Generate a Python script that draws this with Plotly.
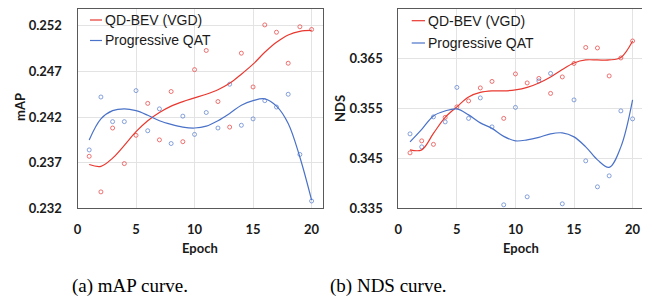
import plotly.graph_objects as go
from plotly.subplots import make_subplots

epochs = list(range(1, 21))

# mAP raw points
map_qdbev = [0.2377, 0.2338, 0.2408, 0.2369, 0.2400, 0.2435, 0.2395, 0.2448, 0.2393, 0.2472,
             0.2493, 0.2437, 0.2409, 0.2490, 0.2453, 0.2521, 0.2513, 0.2479, 0.2519, 0.2516]
map_pqat = [0.2384, 0.2442, 0.2415, 0.2415, 0.2449, 0.2405, 0.2429, 0.2391, 0.2421, 0.2401,
            0.2425, 0.2408, 0.2456, 0.2411, 0.2418, 0.2438, 0.2431, 0.2445, 0.2379, 0.2328]
# mAP trend curves
map_qdbev_trend = [0.2368, 0.2366, 0.2375, 0.2389, 0.2404, 0.2416, 0.2425, 0.2432, 0.2437, 0.2441,
                   0.2445, 0.2450, 0.2457, 0.2467, 0.2478, 0.2491, 0.2502, 0.2510, 0.2514, 0.2515]
map_pqat_trend = [0.2395, 0.2418, 0.2427, 0.2429, 0.2427, 0.2422, 0.2416, 0.2412, 0.2409, 0.2408,
                  0.2410, 0.2416, 0.2424, 0.2433, 0.2438, 0.2440, 0.2432, 0.2413, 0.2376, 0.2329]

# NDS raw points
nds_qdbev = [0.3461, 0.3485, 0.3478, 0.3532, 0.3553, 0.3565, 0.3591, 0.3604, 0.3530, 0.3619,
             0.3601, 0.3610, 0.3580, 0.3613, 0.3640, 0.3672, 0.3671, 0.3615, 0.3651, 0.3685]
nds_pqat = [0.3499, 0.3473, 0.3533, 0.3523, 0.3592, 0.3530, 0.3571, 0.3513, 0.3357, 0.3552,
            0.3373, 0.3605, 0.3620, 0.3359, 0.3567, 0.3445, 0.3393, 0.3415, 0.3545, 0.3529]
# NDS trend curves
nds_qdbev_trend = [0.3467, 0.3467, 0.3500, 0.3532, 0.3553, 0.3573, 0.3582, 0.3585, 0.3585, 0.3587,
                   0.3592, 0.3601, 0.3613, 0.3628, 0.3641, 0.3647, 0.3647, 0.3647, 0.3652, 0.3685]
nds_pqat_trend = [0.3483, 0.3508, 0.3535, 0.3545, 0.3549, 0.3537, 0.3521, 0.3510, 0.3494, 0.3485,
                  0.3487, 0.3492, 0.3499, 0.3501, 0.3493, 0.3473, 0.3447, 0.3432, 0.3473, 0.3567]

map_ticks = [0.232, 0.237, 0.242, 0.247, 0.252]
nds_ticks = [0.335, 0.345, 0.355, 0.365, 0.375]
x_ticks = [0, 5, 10, 15, 20]
series_names = ["QD-BEV (VGD)", "Progressive QAT"]
captions = ["(a) mAP curve.", "(b) NDS curve."]

RED = "#e8382f"
BLUE = "#4a72c8"
RED_PT = "rgba(232,70,70,0.75)"
BLUE_PT = "rgba(74,114,200,0.65)"

# the page body adds an 8px margin; size the figure so it fills the 650x302 window
OFF = 8
W, H = 650 - OFF, 302 - OFF
def px_x(p):
    return (p - OFF) / W
def px_y(p):
    return 1 - (p - OFF) / H

fig = make_subplots(rows=1, cols=2)

def add_panel(col, raw_a, raw_b, tr_a, tr_b):
    fig.add_trace(go.Scatter(x=epochs, y=raw_a, mode="markers",
                             marker=dict(symbol="circle-open", size=4, color=RED_PT, line=dict(width=1)),
                             showlegend=False, hoverinfo="skip"), row=1, col=col)
    fig.add_trace(go.Scatter(x=epochs, y=raw_b, mode="markers",
                             marker=dict(symbol="circle-open", size=4, color=BLUE_PT, line=dict(width=1)),
                             showlegend=False, hoverinfo="skip"), row=1, col=col)
    fig.add_trace(go.Scatter(x=epochs, y=tr_a, mode="lines", name=series_names[0],
                             line=dict(color=RED, width=1.2, shape="spline", smoothing=1.0),
                             showlegend=False), row=1, col=col)
    fig.add_trace(go.Scatter(x=epochs, y=tr_b, mode="lines", name=series_names[1],
                             line=dict(color=BLUE, width=1.2, shape="spline", smoothing=1.0),
                             showlegend=False), row=1, col=col)

add_panel(1, map_qdbev, map_pqat, map_qdbev_trend, map_pqat_trend)
add_panel(2, nds_qdbev, nds_pqat, nds_qdbev_trend, nds_pqat_trend)

tick_font = dict(family="Lato", size=13, color="#1a1a1a", weight="bold")
axis_common = dict(showline=True, linecolor="#595959", linewidth=1, mirror=True,
                   showgrid=True, gridcolor="#e3e3e3", gridwidth=1, zeroline=False,
                   ticks="", automargin=False, tickfont=tick_font)

fig.update_xaxes(range=[0, 21], tickvals=x_ticks, ticktext=[str(v) for v in x_ticks],
                 ticklabelstandoff=9, **axis_common)
fig.update_yaxes(ticklabelstandoff=12, **axis_common)
fig.update_yaxes(range=[0.232, 0.2539], tickvals=map_ticks,
                 ticktext=[f"{v:.3f}" for v in map_ticks], row=1, col=1)
fig.update_yaxes(range=[0.335, 0.375], tickvals=nds_ticks,
                 ticktext=[f"{v:.3f}" for v in nds_ticks], row=1, col=2)

fig.update_layout(
    xaxis=dict(domain=[px_x(77.5), px_x(323.3)]),
    xaxis2=dict(domain=[px_x(398.3), px_x(644.3)]),
    yaxis=dict(domain=[px_y(208.3), min(1.0, px_y(8.5))]),
    yaxis2=dict(domain=[px_y(208.3), min(1.0, px_y(8.5))]),
)

annotations = []
shapes = []
title_font = dict(family="Lato", size=13, color="#1a1a1a", weight="bold")
# axis titles
annotations.append(dict(text="mAP", x=px_x(20), y=px_y(107), xref="paper", yref="paper",
                        textangle=-90, showarrow=False, font=title_font, xanchor="center", yanchor="middle"))
annotations.append(dict(text="NDS", x=px_x(340), y=px_y(108), xref="paper", yref="paper",
                        textangle=-90, showarrow=False, font=title_font, xanchor="center", yanchor="middle"))
annotations.append(dict(text="Epoch", x=px_x(200), y=px_y(247.5), xref="paper", yref="paper",
                        showarrow=False, font=title_font, xanchor="center", yanchor="middle"))
annotations.append(dict(text="Epoch", x=px_x(520.7), y=px_y(247.5), xref="paper", yref="paper",
                        showarrow=False, font=title_font, xanchor="center", yanchor="middle"))
# captions
cap_font = dict(family="Liberation Serif", size=19, color="#000000")
annotations.append(dict(text=captions[0], x=px_x(129.5), y=px_y(285.5), xref="paper", yref="paper",
                        showarrow=False, font=cap_font, xanchor="center", yanchor="middle"))
annotations.append(dict(text=captions[1], x=px_x(388.5), y=px_y(285.5), xref="paper", yref="paper",
                        showarrow=False, font=cap_font, xanchor="center", yanchor="middle"))

# custom legends
leg_font = dict(family="Liberation Sans", size=14, color="#1a1a1a")
for (lx0, lx1, tx, ys) in [(90, 102, 103, (20, 40.5)), (411.7, 425, 425.7, (20.7, 43))]:
    for name, color, yy in zip(series_names, [RED, BLUE], ys):
        shapes.append(dict(type="line", xref="paper", yref="paper",
                           x0=px_x(lx0), x1=px_x(lx1), y0=px_y(yy), y1=px_y(yy),
                           line=dict(color=color, width=1.2)))
        annotations.append(dict(text=name, x=px_x(tx), y=px_y(yy), xref="paper", yref="paper",
                                showarrow=False, font=leg_font, xanchor="left", yanchor="middle"))

fig.update_layout(
    width=W, height=H,
    margin=dict(l=0, r=0, t=0, b=0, autoexpand=False),
    paper_bgcolor="white", plot_bgcolor="white",
    annotations=annotations, shapes=shapes,
    showlegend=False,
)

fig.write_html("out.html")
